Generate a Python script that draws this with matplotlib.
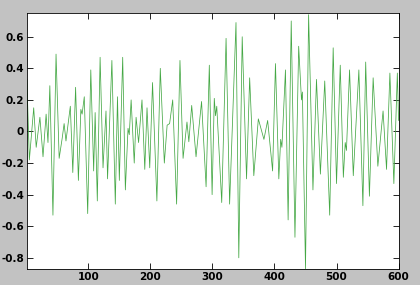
import matplotlib
matplotlib.use('Agg')
import matplotlib.pyplot as plt

# sample index and signal value (peaks/troughs)
xs = [1, 5, 12, 16, 22, 27, 32, 35, 38, 43, 48, 53, 58, 61, 64, 71, 75, 79.5, 84, 88,
      90, 93.5, 99, 104, 108.6, 111, 114.5, 119, 123.7, 128.5, 131, 138, 143.5, 147, 150,
      155.4, 159.7, 164, 166, 169, 174, 177, 181, 186.5, 191, 194.6, 199, 203.5, 210.5,
      216, 222.5, 227, 231, 236, 242.3, 247.7, 252.7, 259, 262, 266.6, 273.6, 282.5,
      289.8, 295, 299.5, 303, 305, 307, 315, 322, 327.7, 338, 342.5, 348, 355, 360,
      366.7, 374, 383, 389, 397, 401.6, 407, 410, 412, 417.7, 422, 427, 433, 439,
      443.5, 445, 450, 455, 462, 467.7, 474, 481, 489, 494.6, 500, 506, 511, 514,
      516, 521, 527, 536, 542.5, 547, 553, 559, 566.6, 575, 580.6, 586, 592.4, 598, 600]
ys = [0.33, -0.18, 0.15, -0.10, 0.09, -0.16, 0.11, -0.07, 0.29, -0.53, 0.49, -0.17, -0.04,
      0.05, -0.06, 0.16, -0.26, 0.28, -0.31, 0.14, 0.11, 0.22, -0.52, 0.39, -0.25, 0.12,
      -0.44, 0.47, -0.23, 0.13, -0.30, 0.45, -0.46, 0.22, -0.31, 0.47, -0.37, 0.02, -0.02,
      0.20, -0.20, 0.09, -0.07, 0.20, -0.24, 0.15, -0.23, 0.31, -0.44, 0.40, -0.20, 0.04,
      0.05, 0.20, -0.46, 0.45, -0.17, 0.06, -0.065, 0.165, -0.16, 0.19, -0.35, 0.42,
      -0.40, 0.21, 0.10, 0.16, -0.45, 0.59, -0.46, 0.69, -0.80, 0.60, -0.30, 0.34, -0.28,
      0.08, -0.05, 0.07, -0.25, 0.43, -0.30, -0.05, -0.10, 0.39, -0.56, 0.70, -0.67, 0.54,
      0.20, 0.25, -0.87, 0.74, -0.37, 0.33, -0.27, 0.32, -0.53, 0.53, -0.33, 0.42, -0.29,
      -0.07, -0.12, 0.39, -0.28, 0.39, -0.47, 0.44, -0.41, 0.34, -0.22, 0.13, -0.24, 0.37,
      -0.33, 0.37, 0.07]

yticks = [-0.8, -0.6, -0.4, -0.2, 0, 0.2, 0.4, 0.6]
xticks = [100, 200, 300, 400, 500, 600]

plt.rcParams['axes.unicode_minus'] = False

fig = plt.figure(figsize=(4.2, 2.85), dpi=100, facecolor='#c2c2c2')
ax = fig.add_axes([0.064, 0.055, 0.885, 0.898])
ax.plot(xs, ys, color='#45a845', lw=0.55, solid_joinstyle='round')

ax.set_xlim(1, 600)
ax.set_ylim(-0.873, 0.748)
ax.set_xticks(xticks)
ax.set_yticks(yticks)
ax.set_yticklabels(['%g' % t for t in yticks])
ax.tick_params(direction='in', top=True, right=True, length=4, width=0.6,
               labelsize=7.5, pad=2)
for lab in ax.get_xticklabels() + ax.get_yticklabels():
    lab.set_fontweight('bold')
for s in ax.spines.values():
    s.set_linewidth(0.6)

fig.savefig('out.png', dpi=100, facecolor=fig.get_facecolor())
